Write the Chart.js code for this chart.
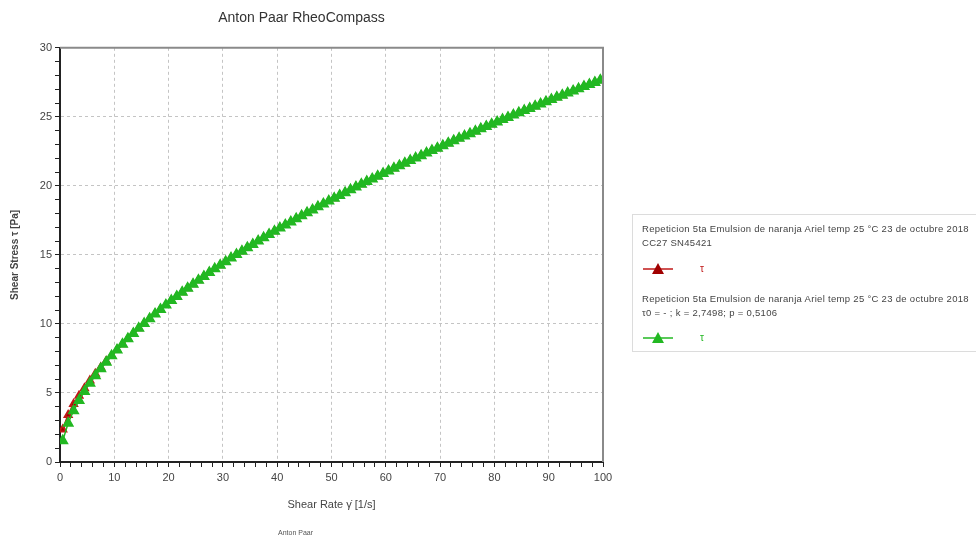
<!DOCTYPE html>
<html lang="es">
<head>
<meta charset="UTF-8">
<title>Anton Paar RheoCompass</title>
<script src="https://cdn.jsdelivr.net/npm/chart.js@4.4.0/dist/chart.umd.min.js"></script>
<style>
    body { margin: 0; background: #fff; font-family: 'Liberation Sans', Arial, sans-serif; }
    .wrap { position: relative; width: 976px; height: 539px; overflow: hidden; }
    .legend-box {
        position: absolute; left: 632px; top: 214px; width: 360px; height: 138px;
        border: 1px solid #dcdcdc; box-sizing: border-box;
        font-size: 9.5px; letter-spacing: 0.3px; color: #444; line-height: 14px;
        padding: 7px 0 0 9px; white-space: nowrap;
    }
    .legend-row { height: 24px; display: flex; align-items: center; }
    .legend-row span { margin-left: 26px; font-size: 10px; }
    .footer { position: absolute; left: 278px; top: 529px; font-size: 7px; color: #555; }
</style>
</head>
<body>
<div class="wrap">
    <canvas id="rheo" width="976" height="539"></canvas>
    <div class="legend-box">
        <div>Repeticion 5ta Emulsion de naranja Ariel temp 25 °C 23 de octubre 2018</div>
        <div>CC27 SN45421</div>
        <div class="legend-row" style="margin-top:7px">
            <svg width="32" height="12"><line x1="1" y1="6" x2="31" y2="6" stroke="#c01818" stroke-width="1.5"/><polygon points="16,0 22,11 10,11" fill="#a00000"/></svg>
            <span style="color:#c01818">τ</span>
        </div>
        <div style="margin-top:11px">Repeticion 5ta Emulsion de naranja Ariel temp 25 °C 23 de octubre 2018</div>
        <div>τ0 = - ; k = 2,7498; p = 0,5106</div>
        <div class="legend-row" style="margin-top:6px">
            <svg width="32" height="12"><line x1="1" y1="6" x2="31" y2="6" stroke="#22b822" stroke-width="1.5"/><polygon points="16,0 22,11 10,11" fill="#22b822"/></svg>
            <span style="color:#22b822">τ</span>
        </div>
    </div>
    <div class="footer">Anton Paar</div>
</div>

<script>
// shear rate points (1/s)
const shearRate = [
    0.5, 1.5, 2.5, 3.5, 4.5, 5.5, 6.5, 7.5, 8.5, 9.5,
    10.5, 11.5, 12.5, 13.5, 14.5, 15.5, 16.5, 17.5, 18.5, 19.5,
    20.5, 21.5, 22.5, 23.5, 24.5, 25.5, 26.5, 27.5, 28.5, 29.5,
    30.5, 31.5, 32.5, 33.5, 34.5, 35.5, 36.5, 37.5, 38.5, 39.5,
    40.5, 41.5, 42.5, 43.5, 44.5, 45.5, 46.5, 47.5, 48.5, 49.5,
    50.5, 51.5, 52.5, 53.5, 54.5, 55.5, 56.5, 57.5, 58.5, 59.5,
    60.5, 61.5, 62.5, 63.5, 64.5, 65.5, 66.5, 67.5, 68.5, 69.5,
    70.5, 71.5, 72.5, 73.5, 74.5, 75.5, 76.5, 77.5, 78.5, 79.5,
    80.5, 81.5, 82.5, 83.5, 84.5, 85.5, 86.5, 87.5, 88.5, 89.5,
    90.5, 91.5, 92.5, 93.5, 94.5, 95.5, 96.5, 97.5, 98.5, 99.5
];

// measured shear stress (Pa) - red
const stressMeasured = [
    2.35, 3.40, 4.20, 4.80, 5.35, 5.90, 6.40, 6.85, 7.30, 7.70,
    8.12, 8.52, 8.93, 9.30, 9.68, 10.03, 10.38, 10.72, 11.05, 11.37,
    11.69, 11.99, 12.30, 12.59, 12.88, 13.16, 13.44, 13.72, 13.98, 14.25,
    14.51, 14.77, 15.02, 15.27, 15.52, 15.76, 16.00, 16.24, 16.48, 16.71,
    16.94, 17.16, 17.39, 17.61, 17.83, 18.05, 18.26, 18.48, 18.69, 18.90,
    19.10, 19.31, 19.51, 19.71, 19.91, 20.11, 20.31, 20.50, 20.70, 20.89,
    21.08, 21.27, 21.46, 21.64, 21.83, 22.01, 22.19, 22.38, 22.56, 22.73,
    22.91, 23.09, 23.27, 23.44, 23.61, 23.78, 23.95, 24.13, 24.30, 24.46,
    24.63, 24.80, 24.96, 25.13, 25.29, 25.45, 25.61, 25.77, 25.93, 26.09,
    26.25, 26.41, 26.57, 26.72, 26.88, 27.03, 27.19, 27.34, 27.49, 27.65
];

// Herschel-Bulkley fit (Pa) - green
const stressFit = [
    1.54, 2.81, 3.71, 4.46, 5.11, 5.71, 6.25, 6.76, 7.23, 7.69,
    8.12, 8.53, 8.93, 9.31, 9.68, 10.03, 10.38, 10.72, 11.05, 11.37,
    11.69, 11.99, 12.30, 12.59, 12.88, 13.16, 13.44, 13.72, 13.99, 14.25,
    14.51, 14.77, 15.02, 15.27, 15.52, 15.76, 16.00, 16.24, 16.48, 16.71,
    16.94, 17.16, 17.39, 17.61, 17.83, 18.05, 18.26, 18.48, 18.69, 18.90,
    19.10, 19.31, 19.51, 19.71, 19.91, 20.11, 20.31, 20.50, 20.70, 20.89,
    21.08, 21.27, 21.46, 21.64, 21.83, 22.01, 22.19, 22.38, 22.56, 22.73,
    22.91, 23.09, 23.27, 23.44, 23.61, 23.78, 23.95, 24.13, 24.30, 24.46,
    24.63, 24.80, 24.96, 25.13, 25.29, 25.45, 25.61, 25.77, 25.93, 26.09,
    26.25, 26.41, 26.57, 26.72, 26.88, 27.03, 27.19, 27.34, 27.49, 27.65
];

const majorX = 10;   // labelled gridlines on x
const majorY = 5;    // labelled gridlines on y

const toPoints = (xs, ys) => xs.map((x, i) => ({ x: x, y: ys[i] }));

// gray frame on top and right of the plot
const framePlugin = {
    id: 'frame',
    afterDraw(chart) {
        const a = chart.chartArea, ctx = chart.ctx;
        ctx.save();
        ctx.strokeStyle = '#8a8a8a';
        ctx.lineWidth = 2;
        ctx.beginPath();
        ctx.moveTo(a.left, a.top);
        ctx.lineTo(a.right, a.top);
        ctx.lineTo(a.right, a.bottom);
        ctx.stroke();
        ctx.restore();
    }
};

const tickFont = { family: "'Liberation Sans', Arial, sans-serif", size: 11 };

new Chart(document.getElementById('rheo').getContext('2d'), {
    type: 'line',
    data: {
        datasets: [
            {
                label: 'τ',
                data: toPoints(shearRate, stressMeasured),
                borderColor: '#c01818',
                backgroundColor: '#a00000',
                borderWidth: 2,
                pointStyle: 'triangle',
                pointRadius: 4,
                order: 1
            },
            {
                label: 'τ fit',
                data: toPoints(shearRate, stressFit),
                borderColor: '#22b822',
                backgroundColor: '#22b822',
                borderWidth: 1.5,
                pointStyle: 'triangle',
                pointRadius: 5.5,
                order: 0
            }
        ]
    },
    options: {
        responsive: false,
        animation: false,
        layout: { padding: { left: 0, right: 373, top: 0, bottom: 0 } },
        plugins: {
            legend: { display: false },
            tooltip: { enabled: false },
            title: {
                display: true,
                text: 'Anton Paar RheoCompass',
                color: '#333',
                font: { family: "'Liberation Sans', Arial, sans-serif", size: 14, weight: 'normal' },
                padding: { top: 10, bottom: 21 }
            }
        },
        scales: {
            x: {
                type: 'linear', min: 0, max: 100,
                afterFit: s => { s.height = 77; },
                title: {
                    display: true, text: 'Shear Rate γ̇ [1/s]', color: '#444',
                    font: tickFont, padding: { top: 0, bottom: 27 }
                },
                ticks: {
                    stepSize: 2, autoSkip: false, maxRotation: 0, color: '#444', font: tickFont, padding: 4,
                    callback: v => (v % majorX === 0 ? String(v) : '')
                },
                grid: {
                    color: c => (c.tick && c.tick.value % majorX === 0 ? '#c4c4c4' : 'rgba(0,0,0,0)'),
                    tickColor: '#222', tickLength: 5, lineWidth: 1
                },
                border: { color: '#222', width: 2, dash: [3, 3] }
            },
            y: {
                min: 0, max: 30,
                afterFit: s => { s.width = 60; },
                title: {
                    display: true, text: 'Shear Stress τ [Pa]', color: '#444',
                    font: { family: "'Liberation Sans', Arial, sans-serif", size: 10, weight: 'bold' },
                    padding: { top: 9, bottom: 0 }
                },
                ticks: {
                    stepSize: 1, autoSkip: false, color: '#444', font: tickFont, padding: 3,
                    callback: v => (v % majorY === 0 ? String(v) : '')
                },
                grid: {
                    color: c => (c.tick && c.tick.value % majorY === 0 ? '#c4c4c4' : 'rgba(0,0,0,0)'),
                    tickColor: '#222', tickLength: 5, lineWidth: 1
                },
                border: { color: '#222', width: 2, dash: [3, 3] }
            }
        }
    },
    plugins: [framePlugin]
});
</script>
</body>
</html>
